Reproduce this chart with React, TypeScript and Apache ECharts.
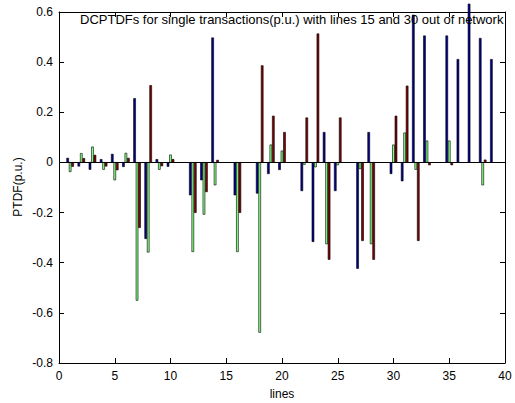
import React, { useEffect, useRef } from "react";
import * as echarts from "echarts";

// Line numbers (one group of three bars per line)
const lineNos = [
  1, 2, 3, 4, 5, 6, 7, 8, 9, 10, 11, 12, 13, 14, 15, 16, 17, 18, 19, 20,
  21, 22, 23, 24, 25, 26, 27, 28, 29, 30, 31, 32, 33, 34, 35, 36, 37, 38, 39,
];

// PTDF values per transaction (p.u.)
const transA = [
  0.017, -0.015, -0.028, 0.012, 0.033, -0.017, 0.255, -0.304, 0.012, -0.016,
  0, -0.13, -0.07, 0.497, 0, -0.13, 0, -0.123, -0.045, -0.029,
  0, -0.113, -0.316, 0.12, -0.113, 0, -0.423, 0.12, 0, -0.045,
  -0.074, 0.588, 0.505, 0, 0.505, 0.411, 0.632, 0.495, 0.411,
];
const transB = [
  -0.037, 0.036, 0.062, -0.028, -0.07, 0.037, -0.55, -0.358, -0.028, 0.03,
  0, -0.356, -0.207, -0.09, 0, -0.356, 0, -0.678, 0.07, 0.046,
  0, -0.008, -0.018, -0.325, -0.01, 0, -0.025, -0.325, 0, 0.07,
  0.118, -0.028, 0.086, 0, 0.086, 0, 0, -0.09, 0,
];
const transC = [
  -0.016, 0.016, 0.029, -0.015, -0.03, 0.017, -0.26, 0.307, -0.014, 0.012,
  0, -0.2, -0.117, 0.009, 0, -0.2, 0, 0.386, 0.185, 0.12,
  0, 0.178, 0.513, -0.387, 0.178, 0, -0.312, -0.387, 0, 0.185,
  0.305, -0.312, -0.01, 0, -0.01, 0, 0, 0.01, 0,
];

const xTicks = [0, 5, 10, 15, 20, 25, 30, 35, 40];
const yTicks = [-0.8, -0.6, -0.4, -0.2, 0, 0.2, 0.4, 0.6];

const FONT = "'Liberation Sans', Arial, sans-serif";
const SLOT = 2 / 9; // group width 2/3 split over three bars
const BAR_W = SLOT * 0.8;

function barSeries(name: string, values: number[], offset: number, color: string) {
  return {
    name,
    type: "custom",
    xAxisIndex: 0,
    yAxisIndex: 0,
    clip: false,
    data: lineNos.map((n, i) => [n + offset, values[i]]),
    renderItem: (_params: any, api: any) => {
      const x = api.value(0);
      const v = api.value(1);
      if (v === 0) return null;
      const p0 = api.coord([x - BAR_W / 2, v]);
      const p1 = api.coord([x + BAR_W / 2, 0]);
      return {
        type: "rect",
        shape: {
          x: p0[0],
          y: Math.min(p0[1], p1[1]),
          width: p1[0] - p0[0],
          height: Math.abs(p1[1] - p0[1]),
        },
        style: { fill: color, stroke: "#000", lineWidth: 0.6 },
      };
    },
  };
}

export default function App() {
  const ref = useRef<HTMLDivElement>(null);

  useEffect(() => {
    if (!ref.current) return;
    const chart = echarts.init(ref.current, null, { renderer: "svg" });
    const axisCommon = {
      type: "value",
      axisLine: { show: true, onZero: false, lineStyle: { color: "#000", width: 1 } },
      axisTick: { show: true, inside: true, length: 5, lineStyle: { color: "#000" } },
      splitLine: { show: false },
    };
    chart.setOption({
      animation: false,
      backgroundColor: "#fff",
      textStyle: { fontFamily: FONT },
      grid: { left: 59, right: 10, top: 12, bottom: 40 },
      xAxis: [
        {
          ...axisCommon,
          min: xTicks[0],
          max: xTicks[xTicks.length - 1],
          interval: 5,
          position: "bottom",
          axisLabel: { color: "#000", fontSize: 12, fontFamily: FONT, margin: 7 },
        },
        {
          ...axisCommon,
          min: xTicks[0],
          max: xTicks[xTicks.length - 1],
          interval: 5,
          position: "top",
          axisLabel: { show: false },
        },
      ],
      yAxis: [
        {
          ...axisCommon,
          min: yTicks[0],
          max: yTicks[yTicks.length - 1],
          interval: 0.2,
          position: "left",
          axisLabel: {
            color: "#000",
            fontSize: 12,
            fontFamily: FONT,
            margin: 6,
            formatter: (v: number) => String(Math.round(v * 10) / 10),
          },
        },
        {
          ...axisCommon,
          min: yTicks[0],
          max: yTicks[yTicks.length - 1],
          interval: 0.2,
          position: "right",
          axisLabel: { show: false },
        },
      ],
      graphic: [
        {
          type: "text",
          left: 80,
          top: 13,
          z: 10,
          style: {
            text: "DCPTDFs for single transactions(p.u.) with lines 15 and 30 out of network",
            fill: "#000",
            font: `13px ${FONT}`,
          },
        },
        {
          type: "text",
          x: 282,
          y: 394,
          style: {
            text: "lines",
            fill: "#000",
            font: `12px ${FONT}`,
            textAlign: "center",
            textVerticalAlign: "middle",
          },
        },
        {
          type: "text",
          x: 18,
          y: 187,
          rotation: Math.PI / 2,
          style: {
            text: "PTDF(p.u.)",
            fill: "#000",
            font: `12px ${FONT}`,
            textAlign: "center",
            textVerticalAlign: "middle",
          },
        },
      ],
      series: [
        barSeries("A", transA, -SLOT, "#00008f"),
        barSeries("B", transB, 0, "#80ff80"),
        {
          ...barSeries("C", transC, SLOT, "#800000"),
          markLine: {
            silent: true,
            symbol: "none",
            label: { show: false },
            lineStyle: { color: "#000", type: "solid", width: 1 },
            data: [{ yAxis: 0 }],
          },
        },
      ],
    });
    return () => chart.dispose();
  }, []);

  return (
    <div
      ref={ref}
      style={{ position: "fixed", left: 0, top: 0, width: 515, height: 403 }}
    />
  );
}
